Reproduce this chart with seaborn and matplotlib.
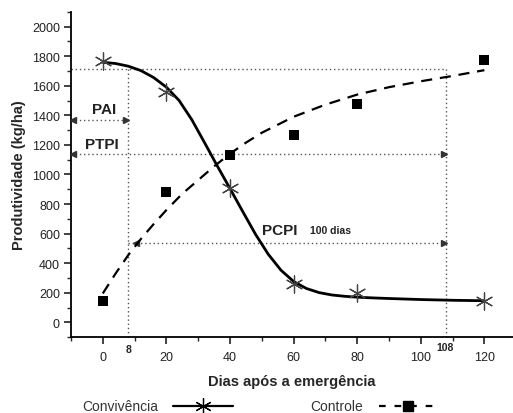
import matplotlib
matplotlib.use("Agg")
import matplotlib.pyplot as plt
import seaborn as sns
import pandas as pd
from matplotlib.lines import Line2D
from matplotlib.ticker import MultipleLocator

# ---- data ----
days = [0, 20, 40, 60, 80, 120]
convivencia = [1770, 1560, 910, 258, 196, 144]
controle = [145, 883, 1130, 1266, 1473, 1772]

fit_conv_x = [0, 4, 8, 12, 16, 20, 24, 28, 32, 36, 40, 44, 48, 52, 56, 60,
              64, 68, 72, 76, 80, 85, 90, 100, 110, 120]
fit_conv_y = [1758, 1750, 1732, 1702, 1655, 1590, 1500, 1370, 1215, 1058, 905,
              750, 597, 462, 354, 277, 230, 202, 186, 177, 171, 166, 162, 155,
              150, 147]

fit_ctrl_x = [0, 4, 8, 12, 16, 20, 25, 30, 35, 40, 45, 50, 60, 70, 80, 90,
              100, 110, 120]
fit_ctrl_y = [196, 330, 455, 565, 665, 760, 870, 962, 1055, 1140, 1215, 1282,
              1390, 1472, 1540, 1590, 1630, 1666, 1705]

pai_day = 8
ptpi_day = 108
level_95 = 1711
y_pai = 1365
y_ptpi = 1137
y_pcpi = 538

x_ticks = [0, 20, 40, 60, 80, 100, 120]
y_ticks = [0, 200, 400, 600, 800, 1000, 1200, 1400, 1600, 1800, 2000]

sns.set_theme(style="white")
plt.rcParams['font.family'] = ['Liberation Sans', 'DejaVu Sans']

fig = plt.figure(figsize=(5.13, 4.14), dpi=100)
ax = fig.add_axes([0.1384, 0.1829, 0.8616, 0.7864])

star = (6, 2, 0)

pts = pd.DataFrame({"dias": days, "conv": convivencia, "ctrl": controle})
fc = pd.DataFrame({"x": fit_conv_x, "y": fit_conv_y})
fk = pd.DataFrame({"x": fit_ctrl_x, "y": fit_ctrl_y})

sns.lineplot(data=fc, x="x", y="y", ax=ax, color="black", lw=2.0, zorder=4,
             solid_joinstyle="round")
sns.lineplot(data=fk, x="x", y="y", ax=ax, color="black", lw=1.6,
             linestyle=(0, (5, 3.5)), zorder=4)
sns.scatterplot(data=pts, x="dias", y="conv", ax=ax, marker=star, s=150,
                color="#444444", linewidth=0.9, edgecolor="#444444", zorder=5)
sns.scatterplot(data=pts, x="dias", y="ctrl", ax=ax, marker="s", s=55,
                color="black", linewidth=0, zorder=5)

dot = dict(color="#555555", lw=1.0, linestyle=(0, (1, 2)), zorder=2)
ax.plot([-10, ptpi_day], [level_95, level_95], **dot)
ax.plot([pai_day, pai_day], [-100, level_95], **dot)
ax.plot([ptpi_day, ptpi_day], [-100, level_95], **dot)
ax.plot([-10, pai_day], [y_pai, y_pai], **dot)
ax.plot([-10, ptpi_day], [y_ptpi, y_ptpi], **dot)
ax.plot([pai_day, ptpi_day], [y_pcpi, y_pcpi], **dot)

head = dict(color="#333333", markersize=4, linestyle="none", zorder=3)
ax.plot([-9.3], [y_pai], marker="<", **head)
ax.plot([pai_day - 0.8], [y_pai], marker=">", **head)
ax.plot([-9.3], [y_ptpi], marker="<", **head)
ax.plot([ptpi_day - 0.8], [y_ptpi], marker=">", **head)
ax.plot([pai_day + 2.3], [y_pcpi], marker="<", **head)
ax.plot([ptpi_day - 0.8], [y_pcpi], marker=">", **head)

ax.text(0.5, 1440, "PAI", fontsize=11, fontweight="bold", ha="center", va="center", color="#222222")
ax.text(-0.4, 1205, "PTPI", fontsize=11, fontweight="bold", ha="center", va="center", color="#222222")
ax.text(55.7, 628, "PCPI", fontsize=11, fontweight="bold", ha="center", va="center", color="#222222")
ax.text(71.7, 628, "100 dias", fontsize=7.5, fontweight="bold", ha="center", va="center", color="#222222")

ax.set_xlim(-10, 129)
ax.set_ylim(-100, 2100)
ax.set_xticks(x_ticks)
ax.set_yticks(y_ticks)
ax.xaxis.set_minor_locator(MultipleLocator(10))
ax.yaxis.set_minor_locator(MultipleLocator(100))
ax.tick_params(axis="both", which="major", direction="out", length=5, width=1.2,
               labelsize=9, colors="#222222", bottom=True, left=True)
ax.tick_params(axis="x", which="major", pad=5)
ax.tick_params(axis="y", which="major", pad=3)
ax.tick_params(axis="both", which="minor", direction="out", length=3, width=1.0,
               bottom=True, left=True)

ax.text(pai_day, -0.02, "8", transform=ax.get_xaxis_transform(), fontsize=7.5,
        fontweight="bold", ha="center", va="top", color="#222222")
ax.text(ptpi_day - 0.5, -0.015, "108", transform=ax.get_xaxis_transform(), fontsize=7.5,
        fontweight="bold", ha="center", va="top", color="#222222")

for s in ["top", "right"]:
    ax.spines[s].set_visible(False)
for s in ["left", "bottom"]:
    ax.spines[s].set_color("black")
    ax.spines[s].set_linewidth(1.3)

ax.set_xlabel("Dias após a emergência", fontsize=10.5, fontweight="bold", labelpad=8)
ax.set_ylabel("Produtividade (kg/ha)", fontsize=10.5, fontweight="bold", labelpad=4)

h1 = Line2D([], [], color="black", lw=1.6, marker=star, markersize=12,
            markeredgecolor="black", markeredgewidth=0.9)
h2 = Line2D([], [], color="black", lw=1.6, linestyle=(0, (3, 4)), marker="s",
            markersize=7, markerfacecolor="black")
fig.legend([h1, h2], ["Convivência", "Controle"], loc="center",
           bbox_to_anchor=(0.507, 0.016), ncol=2, markerfirst=False, frameon=False,
           fontsize=10, handlelength=4.3, columnspacing=5.6, handletextpad=1.1,
           labelcolor="#333333")

fig.savefig("out.png", dpi=100)
